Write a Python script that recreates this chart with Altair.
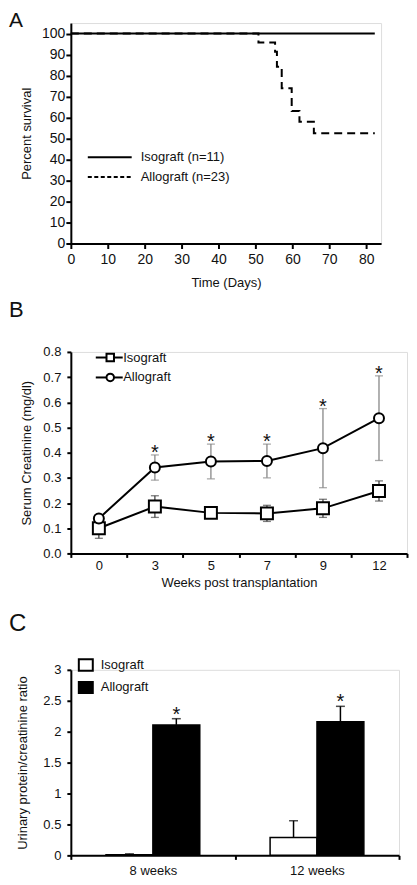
import altair as alt
import pandas as pd

FONT = "Liberation Sans"
INK = "#111111"

# ---------------- Panel A: survival ----------------
km_days = [0, 50.8, 55.3, 55.8, 57.1, 59.8, 61.9, 65.8, 82.3]
km_surv = [100, 95.7, 91.3, 84.2, 73.9, 63.1, 58.0, 52.5, 52.5]
iso_days = [0, 82.3]
iso_surv = [100, 100]
a_xticks = [0, 10, 20, 30, 40, 50, 60, 70, 80]
a_yticks = [0, 10, 20, 30, 40, 50, 60, 70, 80, 90, 100]
a_labels = ["Isograft (n=11)", "Allograft (n=23)"]

# ---------------- Panel B: serum creatinine ----------------
weeks = ["0", "3", "5", "7", "9", "12"]
b_iso_mean = [0.100, 0.186, 0.161, 0.159, 0.179, 0.248]
b_iso_sd = [0.040, 0.043, 0.010, 0.032, 0.036, 0.040]
b_allo_mean = [0.139, 0.341, 0.365, 0.367, 0.418, 0.537]
b_allo_sd = [0.015, 0.050, 0.069, 0.067, 0.157, 0.168]
b_sig = [False, True, True, True, True, True]
b_yticks = [0.0, 0.1, 0.2, 0.3, 0.4, 0.5, 0.6, 0.7, 0.8]
groups = ["Isograft", "Allograft"]

# ---------------- Panel C: urinary protein/creatinine ----------------
periods = ["8 weeks", "12 weeks"]
c_iso = [0.01, 0.29]
c_iso_err = [0.015, 0.27]
c_allo = [2.11, 2.16]
c_allo_err = [0.10, 0.25]
c_sig_allo = [True, True]
c_yticks = [0, 0.5, 1, 1.5, 2, 2.5, 3]

one = pd.DataFrame({"k": [0]})


def axis_common(**kw):
    base = dict(grid=False, domainColor="black", tickColor="black", domainWidth=2,
                tickWidth=2, labelFontSize=13, titleFontSize=13, titleFontWeight="normal",
                labelColor=INK, titleColor=INK, labelFont=FONT, titleFont=FONT,
                labelOverlap=False)
    base.update(kw)
    return alt.Axis(**base)


def letter(txt, y, size):
    return alt.Chart(pd.DataFrame({"t": [txt]})).mark_text(
        align="left", baseline="alphabetic", fontSize=size, font=FONT, color=INK
    ).encode(x=alt.value(-62), y=alt.value(y), text="t:N")


# ===== A =====
WA, HA = 311, 221
df_km = pd.DataFrame({"day": km_days, "surv": km_surv})
df_iso = pd.DataFrame({"day": iso_days, "surv": iso_surv})
xA = alt.X("day:Q", scale=alt.Scale(domain=[0, 84], nice=False),
           axis=axis_common(values=a_xticks, title="Time (Days)", tickSize=5, labelFontSize=14,
                            labelPadding=4, titlePadding=10, labelFlush=False))
yA = alt.Y("surv:Q", scale=alt.Scale(domain=[0, 105], nice=False),
           axis=axis_common(values=a_yticks, title="Percent survival", tickSize=5, labelFontSize=14,
                            labelPadding=1, titlePadding=8))

a_iso = alt.Chart(df_iso).mark_line(color="black", strokeWidth=2).encode(x=xA, y=yA)
a_km = alt.Chart(df_km).mark_line(color="black", strokeWidth=2, interpolate="step-after",
                                  strokeDash=[8, 5]).encode(x=xA, y=yA)
a_leg1 = alt.Chart(one).mark_rule(color="black", strokeWidth=2).encode(
    x=alt.value(17), x2=alt.value(61), y=alt.value(134.6))
a_leg2 = alt.Chart(one).mark_rule(color="black", strokeWidth=2, strokeDash=[4, 2.5]).encode(
    x=alt.value(17), x2=alt.value(61), y=alt.value(154.3))
a_t1 = alt.Chart(pd.DataFrame({"t": [a_labels[0]]})).mark_text(
    align="left", baseline="middle", fontSize=13, font=FONT, color=INK
).encode(x=alt.value(70), y=alt.value(134.6), text="t:N")
a_t2 = alt.Chart(pd.DataFrame({"t": [a_labels[1]]})).mark_text(
    align="left", baseline="middle", fontSize=13, font=FONT, color=INK
).encode(x=alt.value(70), y=alt.value(154.3), text="t:N")

chartA = alt.layer(a_iso, a_km, a_leg1, a_leg2, a_t1, a_t2,
                   letter("A", 3.8, 21)).properties(width=WA, height=HA)

# ===== B =====
WB, HB = 337, 202
rows = []
for i, w in enumerate(weeks):
    rows.append(dict(week=w, group="Isograft", mean=b_iso_mean[i],
                     lo=b_iso_mean[i] - b_iso_sd[i], hi=b_iso_mean[i] + b_iso_sd[i], sig=False))
    rows.append(dict(week=w, group="Allograft", mean=b_allo_mean[i],
                     lo=b_allo_mean[i] - b_allo_sd[i], hi=b_allo_mean[i] + b_allo_sd[i],
                     sig=b_sig[i]))
dfB = pd.DataFrame(rows)
dfB_iso = dfB[dfB.group == "Isograft"]
dfB_allo = dfB[dfB.group == "Allograft"]
dfB_star = dfB_allo[dfB_allo.sig].assign(star="*")

xB = alt.X("week:O", sort=weeks, bandPosition=0.5,
           scale=alt.Scale(type="band", paddingInner=0, paddingOuter=0),
           axis=axis_common(title="Weeks post transplantation", tickBand="extent", labelAngle=0,
                            tickSize=4, labelPadding=2, titlePadding=4))
yB_scale = alt.Scale(domain=[0, 0.8], nice=False)
yB_axis = axis_common(values=b_yticks, format=".1f", title="Serum Creatinine (mg/dl)",
                      tickSize=4, labelPadding=6, titlePadding=9)


def yb(field):
    return alt.Y(field, scale=yB_scale, axis=yB_axis, title="Serum Creatinine (mg/dl)")


def errbars(df, color):
    r = alt.Chart(df).mark_rule(color=color, strokeWidth=1.3).encode(
        x=xB, y=yb("lo:Q"), y2="hi:Q")
    c1 = alt.Chart(df).mark_tick(color=color, orient="horizontal", size=8, thickness=1.3).encode(
        x=xB, y=yb("lo:Q"))
    c2 = alt.Chart(df).mark_tick(color=color, orient="horizontal", size=8, thickness=1.3).encode(
        x=xB, y=yb("hi:Q"))
    return [r, c1, c2]


b_layers = []
b_layers += errbars(dfB_iso, "#444444")
b_layers += errbars(dfB_allo, "#888888")
b_layers.append(alt.Chart(dfB_iso).mark_line(color="black", strokeWidth=2).encode(x=xB, y=yb("mean:Q")))
b_layers.append(alt.Chart(dfB_allo).mark_line(color="black", strokeWidth=2).encode(x=xB, y=yb("mean:Q")))
b_layers.append(alt.Chart(dfB_iso).mark_point(shape="square", size=144, filled=True, fill="white",
                                              stroke="black", strokeWidth=2, opacity=1).encode(
    x=xB, y=yb("mean:Q")))
b_layers.append(alt.Chart(dfB_allo).mark_point(shape="circle", size=100, filled=True, fill="white",
                                               stroke="black", strokeWidth=2, opacity=1).encode(
    x=xB, y=yb("mean:Q")))
b_layers.append(alt.Chart(dfB_star).mark_text(fontSize=20, font=FONT, color=INK, baseline="alphabetic",
                                              dy=4).encode(x=xB, y=yb("hi:Q"), text="star:N"))
# legend
b_layers.append(alt.Chart(one).mark_rule(color="black", strokeWidth=2).encode(
    x=alt.value(25), x2=alt.value(52), y=alt.value(5.6)))
b_layers.append(alt.Chart(one).mark_rule(color="black", strokeWidth=2).encode(
    x=alt.value(25), x2=alt.value(52), y=alt.value(25.6)))
b_layers.append(alt.Chart(one).mark_point(shape="square", size=56, filled=True, fill="white",
                                          stroke="black", strokeWidth=2, opacity=1).encode(
    x=alt.value(39.5), y=alt.value(5.6)))
b_layers.append(alt.Chart(one).mark_point(shape="circle", size=56, filled=True, fill="white",
                                          stroke="black", strokeWidth=2, opacity=1).encode(
    x=alt.value(39.5), y=alt.value(25.6)))
b_layers.append(alt.Chart(pd.DataFrame({"t": [groups[0]]})).mark_text(
    align="left", baseline="middle", fontSize=13, font=FONT, color=INK).encode(
    x=alt.value(52.5), y=alt.value(5.6), text="t:N"))
b_layers.append(alt.Chart(pd.DataFrame({"t": [groups[1]]})).mark_text(
    align="left", baseline="middle", fontSize=13, font=FONT, color=INK).encode(
    x=alt.value(52.5), y=alt.value(25.6), text="t:N"))
b_layers.append(letter("B", -34.7, 22))
chartB = alt.layer(*b_layers).properties(width=WB, height=HB)

# ===== C =====
WC, HC = 329, 186
crow = []
for i, p in enumerate(periods):
    crow.append(dict(period=p, group="Isograft", val=c_iso[i], hi=c_iso[i] + c_iso_err[i], sig=False))
    crow.append(dict(period=p, group="Allograft", val=c_allo[i], hi=c_allo[i] + c_allo_err[i],
                     sig=c_sig_allo[i]))
dfC = pd.DataFrame(crow)
dfC_star = dfC[dfC.sig].assign(star="*")

xC = alt.X("period:N", sort=periods, scale=alt.Scale(type="band", paddingInner=0, paddingOuter=0),
           axis=axis_common(title=None, tickBand="extent", labelAngle=0, tickSize=4, labelPadding=5))
xoC = alt.XOffset("group:N", sort=groups,
                  scale=alt.Scale(domain=groups, paddingInner=0, paddingOuter=0.75))
yC_scale = alt.Scale(domain=[0, 3], nice=False)
yC_axis = axis_common(values=c_yticks, format="~g", title="Urinary protein/creatinine ratio",
                      tickSize=4, labelPadding=6, titlePadding=13)


def yc(field):
    return alt.Y(field, scale=yC_scale, axis=yC_axis, title="Urinary protein/creatinine ratio")


c_err = alt.Chart(dfC).mark_rule(color="black", strokeWidth=1.5).encode(
    x=xC, xOffset=xoC, y=yc("val:Q"), y2="hi:Q")
c_cap = alt.Chart(dfC).mark_tick(color="black", orient="horizontal", size=9, thickness=1.5).encode(
    x=xC, xOffset=xoC, y=yc("hi:Q"))
c_bar = alt.Chart(dfC).mark_bar(stroke="black", strokeWidth=1.5).encode(
    x=xC, xOffset=xoC, y=yc("val:Q"),
    fill=alt.Fill("group:N", scale=alt.Scale(domain=groups, range=["white", "black"]), legend=None))
c_star = alt.Chart(dfC_star).mark_text(fontSize=20, font=FONT, color=INK, baseline="alphabetic",
                                       dy=2).encode(x=xC, xOffset=xoC, y=yc("hi:Q"), text="star:N")
c_box1 = alt.Chart(one).mark_rect(fill="white", stroke="black", strokeWidth=2).encode(
    x=alt.value(8), x2=alt.value(22), y=alt.value(-10.5), y2=alt.value(0.8))
c_box2 = alt.Chart(one).mark_rect(fill="black", stroke="black", strokeWidth=2).encode(
    x=alt.value(8), x2=alt.value(22), y=alt.value(12.2), y2=alt.value(23.2))
c_t1 = alt.Chart(pd.DataFrame({"t": [groups[0]]})).mark_text(
    align="left", baseline="middle", fontSize=13, font=FONT, color=INK).encode(
    x=alt.value(30), y=alt.value(-5.3), text="t:N")
c_t2 = alt.Chart(pd.DataFrame({"t": [groups[1]]})).mark_text(
    align="left", baseline="middle", fontSize=13, font=FONT, color=INK).encode(
    x=alt.value(30), y=alt.value(17.6), text="t:N")

chartC = alt.layer(c_err, c_cap, c_bar, c_star, c_box1, c_box2, c_t1, c_t2,
                   letter("C", -38.5, 24)).properties(width=WC, height=HC)

inner = alt.vconcat(chartB, chartC, spacing=116.7, bounds="flush")
chart = alt.vconcat(chartA, inner, spacing=108.7, bounds="flush").properties(
    padding=0
).configure_view(stroke=None).configure(font=FONT)

chart.save("out.html", embed_options={"renderer": "svg", "actions": False})
